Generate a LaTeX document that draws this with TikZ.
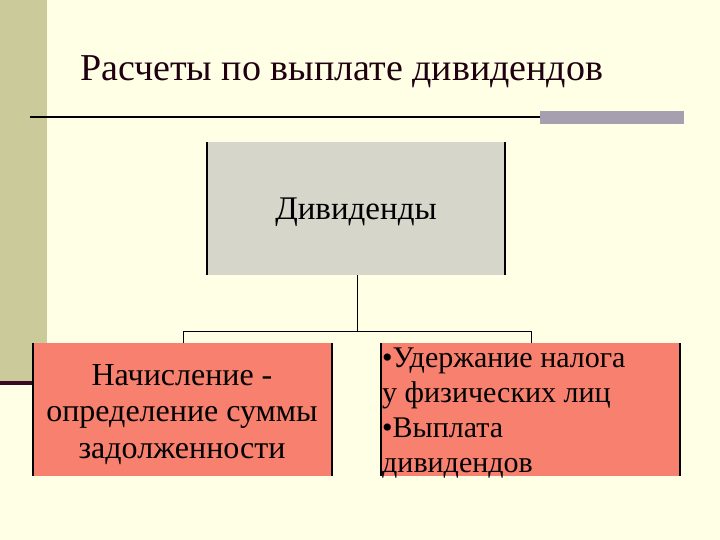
\documentclass[tikz,border=0pt]{standalone}
\usepackage{fontspec}
\setmainfont{Liberation Serif}
\definecolor{bgc}{HTML}{FFFFE6}
\definecolor{barc}{HTML}{CACA9A}
\definecolor{greybar}{HTML}{A4A0B0}
\definecolor{boxgrey}{HTML}{D6D6CA}
\definecolor{salmonc}{HTML}{F8806E}
\definecolor{maroon}{HTML}{3A0A20}
\definecolor{titlec}{HTML}{200010}
\tikzset{
  side/.style={line width=2.5pt, draw=black},
  conn/.style={line width=1pt, draw=black},
  boxtext/.style={text=black, inner sep=0pt},
}
\begin{document}
\begin{tikzpicture}[x=1pt,y=-1pt]
\useasboundingbox (0,0) rectangle (720,540);
\fill[bgc] (0,0) rectangle (720,540);
% left bar
\fill[barc] (0,0) rectangle (47,383);
\fill[maroon] (0,381) rectangle (48,385);
% title
\node[anchor=base west, inner sep=0pt, text=titlec, font=\fontsize{38}{42}\selectfont] (title) at (80,81) {Расчеты по выплате дивидендов};
% rule
\draw[line width=2pt, draw=black] (30,117) -- (540,117);
\fill[greybar] (540,111) rectangle (684,124);
% top box
\fill[boxgrey] (207,142) rectangle (505,275);
\draw[side] (207,142) -- (207,275);
\draw[side] (505,142) -- (505,275);
\node[boxtext, anchor=base, font=\fontsize{33}{38}\selectfont] (top) at (356,220) {Дивиденды};
% left box
\fill[salmonc] (33,343) rectangle (332,476);
\draw[side] (33,343) -- (33,476);
\draw[side] (332,343) -- (332,476);
\node[boxtext, align=center, anchor=base, font=\fontsize{32}{36.5}\selectfont] (left) at (182,458) {Начисление -\\определение суммы\\задолженности};
% right box
\fill[salmonc] (381,343) rectangle (680,476);
\draw[side] (381,343) -- (381,476);
\draw[side] (680,343) -- (680,476);
\node[boxtext, align=left, anchor=base west, font=\fontsize{30}{35}\selectfont] (right) at (382,472) {•Удержание налога\\у физических лиц\\•Выплата\\дивидендов};
% connectors
\coordinate (tb) at (357,275);
\coordinate (j) at (357,331);
\coordinate (lj) at (183,331);
\coordinate (rj) at (531,331);
\coordinate (lb) at (183,343);
\coordinate (rb) at (531,343);
\draw[conn] (tb) -- (j);
\draw[conn] (lb) -- (lj) -- (rj) -- (rb);
\end{tikzpicture}
\end{document}
